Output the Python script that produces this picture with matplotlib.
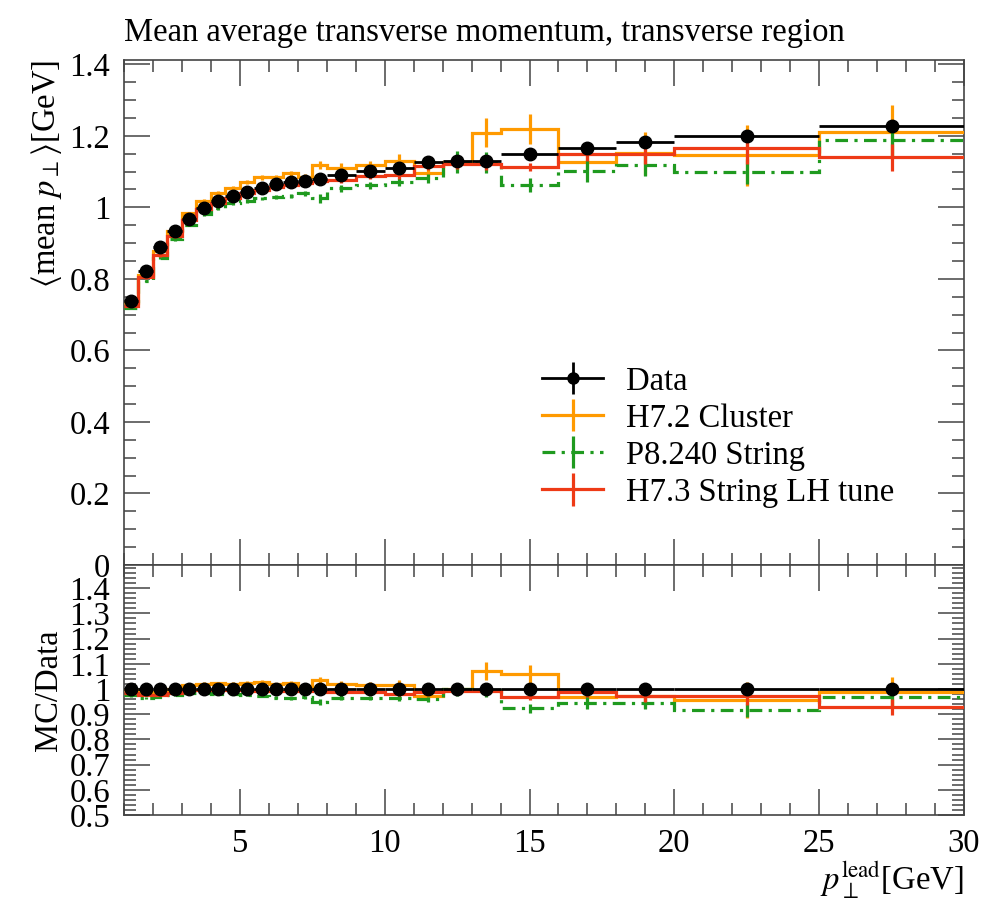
import numpy as np
import matplotlib
matplotlib.use("Agg")
import matplotlib.pyplot as plt
from matplotlib.ticker import MultipleLocator, FormatStrFormatter

plt.rcParams['font.family'] = ['Liberation Serif', 'DejaVu Serif']
plt.rcParams['mathtext.fontset'] = 'stix'

# bin edges in leading-track pT [GeV]
edges = np.array([1, 1.5, 2, 2.5, 3, 3.5, 4, 4.5, 5, 5.5, 6, 6.5, 7, 7.5, 8,
                  9, 10, 11, 12, 13, 14, 16, 18, 20, 25, 30])

data = np.array([0.737, 0.823, 0.888, 0.934, 0.968, 0.997, 1.018, 1.031, 1.044,
                 1.055, 1.065, 1.071, 1.075, 1.080, 1.090, 1.101, 1.111, 1.127,
                 1.129, 1.130, 1.150, 1.165, 1.182, 1.199, 1.228])
data_err = np.array([0.003, 0.003, 0.003, 0.003, 0.003, 0.003, 0.003, 0.003, 0.003,
                     0.003, 0.003, 0.004, 0.004, 0.004, 0.004, 0.004, 0.005, 0.005,
                     0.006, 0.006, 0.006, 0.008, 0.009, 0.010, 0.015])

h72 = np.array([0.733, 0.810, 0.877, 0.934, 0.983, 1.018, 1.041, 1.053, 1.070,
                1.084, 1.084, 1.095, 1.085, 1.118, 1.111, 1.118, 1.130, 1.095,
                1.127, 1.209, 1.219, 1.127, 1.151, 1.146, 1.211])
h72_err = np.array([0.004, 0.004, 0.004, 0.004, 0.005, 0.005, 0.005, 0.006, 0.006,
                    0.007, 0.007, 0.008, 0.008, 0.012, 0.012, 0.012, 0.020, 0.015,
                    0.020, 0.040, 0.042, 0.020, 0.060, 0.085, 0.075])

p8 = np.array([0.719, 0.794, 0.859, 0.911, 0.952, 0.981, 0.997, 1.011, 1.018,
               1.025, 1.028, 1.031, 1.039, 1.025, 1.053, 1.062, 1.071, 1.081,
               1.127, 1.125, 1.062, 1.101, 1.118, 1.099, 1.188])
p8_err = np.array([0.004, 0.004, 0.004, 0.004, 0.004, 0.004, 0.004, 0.005, 0.005,
                   0.005, 0.006, 0.006, 0.007, 0.012, 0.010, 0.010, 0.012, 0.012,
                   0.030, 0.030, 0.020, 0.030, 0.030, 0.035, 0.050])

h73 = np.array([0.725, 0.804, 0.866, 0.919, 0.966, 0.994, 1.013, 1.025, 1.039,
                1.048, 1.057, 1.062, 1.067, 1.074, 1.076, 1.087, 1.090, 1.115,
                1.120, 1.120, 1.113, 1.149, 1.150, 1.166, 1.140])
h73_err = np.array([0.004, 0.004, 0.004, 0.004, 0.004, 0.004, 0.004, 0.005, 0.005,
                    0.005, 0.006, 0.006, 0.006, 0.007, 0.008, 0.008, 0.010, 0.010,
                    0.012, 0.015, 0.012, 0.020, 0.030, 0.045, 0.038])

labels = ["Data", "H7.2 Cluster", "P8.240 String", "H7.3 String LH tune"]
colors = ['black', '#ff9a00', '#1f9a1f', '#ee3a16']
styles = ['-', '-', (0, (4, 2, 1, 2)), '-']

centers = 0.5 * (edges[1:] + edges[:-1])
halfw = 0.5 * (edges[1:] - edges[:-1])

fs = 23.5
fig = plt.figure(figsize=(9.96, 9.0), dpi=100)
ax = fig.add_axes([124/996, 335/900, 840/996, 505/900])
rax = fig.add_axes([124/996, 85/900, 840/996, 250/900], sharex=ax)

mc = [(h72, h72_err), (p8, p8_err), (h73, h73_err)]
handles = []
# data
ax.errorbar(centers, data, xerr=halfw, yerr=data_err, fmt='o', color='k',
            ms=9, lw=2, capsize=0, zorder=5)
hd = ax.errorbar([np.nan], [np.nan], yerr=[0.1], fmt='o-', color='k', ms=8, lw=2)
handles.append(hd)
rax.errorbar(centers, np.ones_like(data), xerr=halfw, yerr=data_err/data, fmt='o',
             color='k', ms=9, lw=2, capsize=0, zorder=5)

for (vals, err), c, ls in zip(mc, colors[1:], styles[1:]):
    ax.stairs(vals, edges, baseline=None, color=c, lw=2.3, linestyle=ls, zorder=3)
    ax.errorbar(centers, vals, yerr=err, fmt='none', ecolor=c, elinewidth=2.3, zorder=3)
    rax.stairs(vals/data, edges, baseline=None, color=c, lw=2.3, linestyle=ls, zorder=3)
    rax.errorbar(centers, vals/data, yerr=err/data, fmt='none', ecolor=c,
                 elinewidth=2.3, zorder=3)
    h = ax.errorbar([np.nan], [np.nan], yerr=[0.1], color=c, lw=2.3, ls=ls)
    h[-1][0].set_linestyle('-')
    handles.append(h)

ax.legend(handles, labels, loc='upper left', bbox_to_anchor=(0.498, 0.394),
          frameon=False, fontsize=fs, handlelength=1.85, handletextpad=0.7,
          labelspacing=0.2, borderpad=0, borderaxespad=0)

for a in (ax, rax):
    a.tick_params(which='both', direction='in', top=True, right=True,
                  labelsize=fs, color='#444444', width=1.1)
    a.tick_params(which='major', length=19, pad=10)
    a.tick_params(which='minor', length=8.5)
    for s in a.spines.values():
        s.set_linewidth(1.2)
        s.set_color('#444444')
    a.xaxis.set_major_locator(MultipleLocator(5))
    a.xaxis.set_minor_locator(MultipleLocator(1))

ax.set_xlim(1, 30)
ax.set_ylim(0, 1.412)
ax.yaxis.set_major_locator(MultipleLocator(0.2))
ax.yaxis.set_minor_locator(MultipleLocator(0.05))
ax.yaxis.set_major_formatter(FormatStrFormatter('%g'))
ax.tick_params(labelbottom=False)

rax.set_ylim(0.5, 1.492)
rax.yaxis.set_major_locator(MultipleLocator(0.1))
rax.yaxis.set_minor_locator(MultipleLocator(0.02))
rax.yaxis.set_major_formatter(FormatStrFormatter('%g'))

ax.set_title("Mean average transverse momentum, transverse region",
             loc='left', fontsize=fs, pad=14)
ax.set_ylabel(r"$\langle$mean $p_\perp\rangle$[GeV]", loc='top', fontsize=fs)
rax.set_ylabel("MC/Data", fontsize=fs)
rax.set_xlabel(r"$p_\perp^\mathrm{lead}$[GeV]", loc='right', fontsize=fs, labelpad=0)
fig.align_ylabels([ax, rax])

fig.savefig("out.png", dpi=100)
